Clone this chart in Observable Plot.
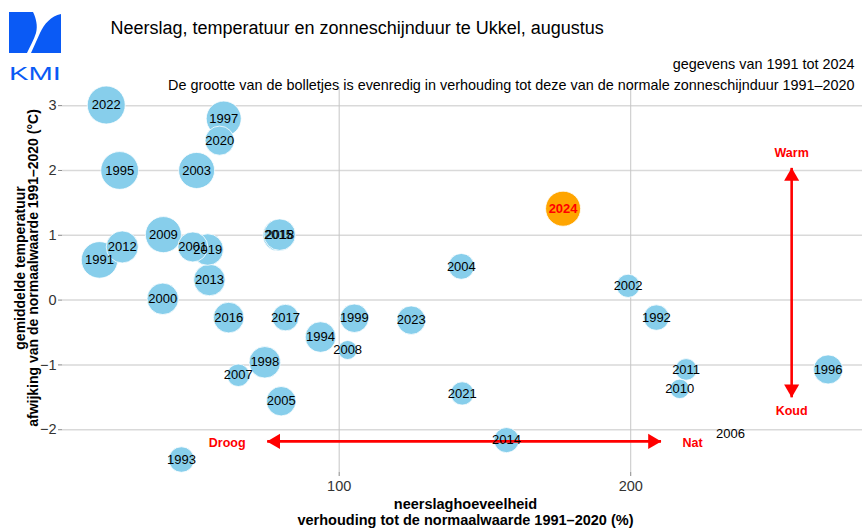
<!DOCTYPE html>
<html>
<head>
<meta charset="utf-8">
<script src="https://cdn.jsdelivr.net/npm/d3@7"></script>
<script src="https://cdn.jsdelivr.net/npm/@observablehq/plot@0.6"></script>
<style>
  html, body { margin: 0; padding: 0; background: #fff; }
  #wrap { position: relative; width: 862px; height: 530px; }
  #logo { position: absolute; left: 0; top: 0; }
</style>
</head>
<body>
<div id="wrap">
  <div id="chart"></div>
  <svg id="logo" width="70" height="85" viewBox="0 0 70 85">
    <path d="M9,12 L33,12 C36,18 38,26 36,33 C34,40 30,46 27,53 L9,53 Z" fill="#0a5af5"/>
    <path d="M61,14 L61,53 L31,53 C34,46 37,40 40,33 C44,24 51,16 61,14 Z" fill="#0a5af5"/>
    <text x="9" y="80" font-family="'Liberation Sans', Arial, sans-serif" font-size="18" fill="#0a5af5" textLength="52" lengthAdjust="spacingAndGlyphs">KMI</text>
  </svg>
</div>
<script>
// ---- data ----
const years = [1991,1992,1993,1994,1995,1996,1997,1998,1999,2000,2001,2002,2003,2004,2005,2006,2007,2008,2009,2010,2011,2012,2013,2014,2015,2016,2017,2018,2019,2020,2021,2022,2023,2024];
// precipitation, % of normal 1991–2020
const rain = [17.8,208.8,45.9,93.6,24.7,267.7,60.4,74.5,105.2,39.5,49.8,199.1,51.1,141.9,80.1,234.2,65.4,102.9,39.7,216.8,219.0,25.6,55.5,157.4,79.2,62.1,81.6,79.6,54.9,59.0,142.2,20.1,124.7,176.8];
// temperature anomaly vs normal 1991–2020 (°C)
const temp = [0.62,-0.27,-2.46,-0.57,2.00,-1.07,2.80,-0.96,-0.28,0.02,0.82,0.22,2.00,0.52,-1.56,-2.07,-1.16,-0.77,1.01,-1.37,-1.07,0.82,0.31,-2.16,1.00,-0.27,-0.27,1.01,0.78,2.46,-1.44,3.01,-0.31,1.41];
// sunshine duration, % of normal 1991–2020
const sun = [129,91,91,107,134,102,123,110,100,110,105,85,127,92,103,55,83,75,127,76,81,112,110,90,110,107,94,110,110,102,85,135,100,123];
const sunMin = 55, sunMax = 135;
const highlightYear = 2024;

const xTicks = [100, 200];
const yTicks = [-2, -1, 0, 1, 2, 3];

// annotations (arrows + words)
const arrowH = [{x1: 75.3, x2: 210.4, y: -2.18}];
const arrowV = [{x: 255.2, y1: -1.50, y2: 2.04}];
const wordsH = [{x: 61.6, y: -2.2, t: "Droog"}, {x: 221.2, y: -2.2, t: "Nat"}];
const wordsV = [{x: 255.2, y: 2.27, t: "Warm"}, {x: 255.2, y: -1.71, t: "Koud"}];

const title = "Neerslag, temperatuur en zonneschijnduur te Ukkel, augustus";
const sub1 = "gegevens van 1991 tot 2024";
const sub2 = "De grootte van de bolletjes is evenredig in verhouding tot deze van de normale zonneschijnduur 1991\u20132020";
const yTitle = "gemiddelde temperatuur\nafwijking van de normaalwaarde 1991\u20132020 (\u00B0C)";
const xTitle = "neerslaghoeveelheid\nverhouding tot de normaalwaarde 1991\u20132020 (%)";

const data = years.map((year, i) => ({year, rain: rain[i], temp: temp[i], sun: sun[i]}));
const normal = data.filter(d => d.year !== highlightYear);
const hi = data.filter(d => d.year === highlightYear);

const FONT = "'Liberation Sans', Arial, Helvetica, sans-serif";
const RED = "#ff0000";
const fmtInt = d => (d < 0 ? "\u2212" : "") + Math.abs(d);

const chart = Plot.plot({
  width: 862,
  height: 530,
  marginLeft: 62,
  marginRight: 0,
  marginTop: 87,
  marginBottom: 58,
  style: {fontFamily: FONT, fontSize: "14px", color: "#333", background: "white", overflow: "visible"},
  x: {domain: [5.1, 279.5]},
  y: {domain: [-2.66, 3.28]},
  r: {type: "sqrt", domain: [0, sunMax - sunMin], range: [0, 19]},
  marks: [
    Plot.ruleY(yTicks, {stroke: "#d9d9d9", strokeWidth: 1.5}),
    Plot.ruleX(xTicks, {stroke: "#c6c6c6", strokeWidth: 1}),
    Plot.axisX({ticks: xTicks, tickFormat: fmtInt, tickSize: 4, tickPadding: 4, stroke: "#888", fill: "#333", fontSize: 14.5, label: null}),
    Plot.axisY({ticks: yTicks, tickFormat: fmtInt, tickSize: 4, tickPadding: 2, stroke: "#888", fill: "#333", fontSize: 14.5, label: null}),
    // bubbles
    Plot.dot(normal, {x: "rain", y: "temp", r: d => d.sun - sunMin, fill: "#87ceeb", stroke: "white", strokeWidth: 0.8}),
    Plot.dot(hi, {x: "rain", y: "temp", r: d => d.sun - sunMin, fill: "#ffa500", stroke: "white", strokeWidth: 0.8}),
    // arrows
    Plot.link(arrowH, {x1: "x1", x2: "x2", y1: "y", y2: "y", stroke: RED, strokeWidth: 2.6}),
    Plot.link(arrowV, {x1: "x", x2: "x", y1: "y1", y2: "y2", stroke: RED, strokeWidth: 2.6}),
    Plot.dot(arrowH, {x: "x1", y: "y", symbol: "triangle", r: 5.6, fill: RED, rotate: -90, dx: 8.5}),
    Plot.dot(arrowH, {x: "x2", y: "y", symbol: "triangle", r: 5.6, fill: RED, rotate: 90, dx: -8.5}),
    Plot.dot(arrowV, {x: "x", y: "y2", symbol: "triangle", r: 5.6, fill: RED, rotate: 0, dy: 8.5}),
    Plot.dot(arrowV, {x: "x", y: "y1", symbol: "triangle", r: 5.6, fill: RED, rotate: 180, dy: -8.5}),
    Plot.text(wordsH, {x: "x", y: "y", text: "t", fill: RED, fontWeight: "bold", fontSize: 12.5}),
    Plot.text(wordsV, {x: "x", y: "y", text: "t", fill: RED, fontWeight: "bold", fontSize: 12.5}),
    // year labels
    Plot.text(normal, {x: "rain", y: "temp", text: d => String(d.year), fill: "black", fontSize: 13}),
    Plot.text(hi, {x: "rain", y: "temp", text: d => String(d.year), fill: RED, fontWeight: "bold", fontSize: 13}),
    // titles
    Plot.text([title], {frameAnchor: "top-left", text: d => d, textAnchor: "start", dx: 48, dy: -66, fontSize: 18, fill: "black"}),
    Plot.text([sub1], {frameAnchor: "top-right", text: d => d, textAnchor: "end", dx: -8, dy: -29, fontSize: 14.4, fill: "black"}),
    Plot.text([sub2], {frameAnchor: "top-right", text: d => d, textAnchor: "end", dx: -8, dy: -8, fontSize: 14.4, fill: "black"}),
    Plot.text([yTitle], {frameAnchor: "left", text: d => d, rotate: -90, textAnchor: "middle", lineAnchor: "middle", lineHeight: 0.9, dx: -35, dy: -12, fontSize: 14, fontWeight: "bold", fill: "black"}),
    Plot.text([xTitle], {frameAnchor: "bottom", text: d => d, textAnchor: "middle", lineAnchor: "middle", lineHeight: 1.15, dx: 3, dy: 39, fontSize: 14.5, fontWeight: "bold", fill: "black"})
  ]
});
document.getElementById("chart").appendChild(chart);
</script>
</body>
</html>
